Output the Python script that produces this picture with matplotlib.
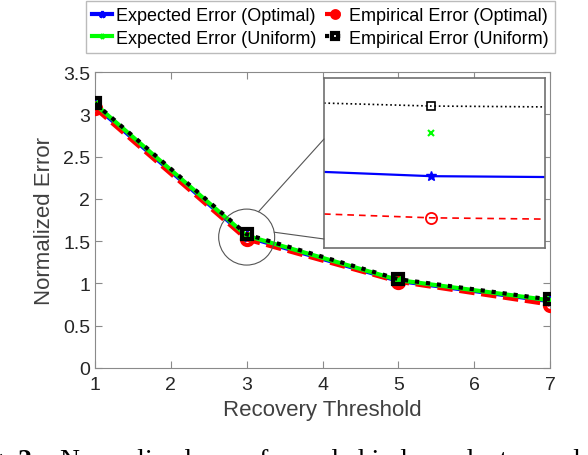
import matplotlib
matplotlib.use("Agg")
import matplotlib.pyplot as plt
from matplotlib.patches import Ellipse, ConnectionPatch
import numpy as np

plt.rcParams['font.family'] = ['Liberation Sans', 'DejaVu Sans']

# ---- data ----
thresholds = [1, 3, 5, 7]
expected_optimal = [3.10, 1.55, 1.03, 0.79]
empirical_optimal = [3.07, 1.52, 1.02, 0.75]
expected_uniform = [3.12, 1.565, 1.04, 0.80]
empirical_uniform = [3.13, 1.58, 1.05, 0.81]

x_ticks = [1, 2, 3, 4, 5, 6, 7]
y_ticks = [0, 0.5, 1, 1.5, 2, 2.5, 3, 3.5]
y_tick_labels = ['0', '0.5', '1', '1.5', '2', '2.5', '3', '3.5']

# zoomed inset (around threshold 3)
inset_x = [2.903, 3.0, 3.103]
inset_expected_optimal = [1.5479, 1.5469, 1.5467]
inset_empirical_optimal = [1.5380, 1.5371, 1.5368]
inset_empirical_uniform = [1.5641, 1.5634, 1.5632]
inset_expected_uniform_x = [3.0]
inset_expected_uniform = [1.5571]

labels = ['Expected Error (Optimal)', 'Empirical Error (Optimal)',
          'Expected Error (Uniform)', 'Empirical Error (Uniform)']

W, H = 588, 456
fig = plt.figure(figsize=(W / 100, H / 100), dpi=100)
ax = fig.add_axes([95 / W, 1 - 369 / H, 455 / W, 296 / H])

txt = '#262626'
axc = '#8a8a8a'

l1, = ax.plot(thresholds, expected_optimal, color='#0000ff', ls='-', lw=3,
              marker='*', ms=8, mew=2, zorder=3)
l2, = ax.plot(thresholds, empirical_optimal, color='#ff0000', ls='--', lw=3,
              marker='o', ms=8, mfc='none', mew=3, zorder=3)
l3, = ax.plot(thresholds, expected_uniform, color='#00ff00', ls='-', lw=3,
              marker='x', ms=6, mew=2.5, zorder=4)
l4, = ax.plot(thresholds, empirical_uniform, color='#000000', ls=':', lw=3,
              marker='s', ms=7, mfc='none', mew=3, zorder=5)

ax.set_xlim(1, 7)
ax.set_ylim(0, 3.5)
ax.set_xticks(x_ticks)
ax.set_yticks(y_ticks)
ax.set_yticklabels(y_tick_labels)
ax.tick_params(direction='in', top=True, right=True, length=5, width=0.8,
               color=axc, labelcolor=txt, labelsize=14)
ax.tick_params(axis='x', pad=6)
for s in ax.spines.values():
    s.set_color(axc)
    s.set_linewidth(0.8)
ax.set_xlabel('Recovery Threshold', fontsize=16, color='#404040', labelpad=4)
ax.set_ylabel('Normalized Error', fontsize=16, color='#404040', labelpad=6)

# magnifier circle
cx, cy = 3.0, 1.548
rx, ry = 28 / 75.83, 28 / 84.6
ax.add_patch(Ellipse((cx, cy), 2 * rx, 2 * ry, fill=False, ec='#555555',
                     lw=0.8, zorder=6))

# inset
ins = fig.add_axes([324 / W, 1 - 249 / H, 221 / W, 170 / H])
ins.plot(inset_x, inset_empirical_uniform, color='k', ls=':', lw=1.2,
         marker='s', ms=6, mfc='none', mew=1.2, markevery=[1])
ins.plot(inset_expected_uniform_x, inset_expected_uniform, color='#00ff00',
         ls='none', marker='x', ms=5, mew=1.5)
ins.plot(inset_x, inset_expected_optimal, color='#0000ff', ls='-', lw=1.6,
         marker='*', ms=7, markevery=[1])
ins.plot(inset_x, inset_empirical_optimal, color='#ff0000', ls=(0, (4, 3)),
         lw=1.2, marker='o', ms=8, mfc='none', mew=1.3, markevery=[1])
ins.set_xlim(2.903, 3.103)
ins.set_ylim(1.53, 1.57)
ins.set_xticks([])
ins.set_yticks([])
for s in ins.spines.values():
    s.set_color('#707070')
    s.set_linewidth(1.2)

for ang, yin in [(65, 0.641), (10, 0.053)]:
    a = np.deg2rad(ang)
    pA = (cx + rx * np.cos(a), cy + ry * np.sin(a))
    con = ConnectionPatch(xyA=pA, coordsA=ax.transData, xyB=(0, yin),
                          coordsB=ins.transAxes, color='#555555', lw=0.8)
    fig.add_artist(con)

leg = fig.legend([l1, l3, l2, l4],
                 [labels[0], labels[2], labels[1], labels[3]],
                 ncol=2, loc='upper left', bbox_to_anchor=(86 / W, 1 - 2 / H),
                 fontsize=13, frameon=True, fancybox=False,
                 framealpha=1, edgecolor='#bbbbbb', handlelength=1.1,
                 handletextpad=0.2, columnspacing=0.5, borderpad=0.35,
                 labelspacing=0.3, borderaxespad=0, markerscale=0.6)
leg.get_frame().set_linewidth(1.0)
for line in leg.get_lines():
    line.set_linewidth(3)

# caption (cut off at bottom of the image)
cap_y = 1 - 449 / H
fig.text(-34 / W, cap_y, 'Fig.', family='Liberation Serif', fontsize=20,
         va='top', ha='left', color='k')
fig.text(18 / W, cap_y, '2.', family='Liberation Serif', fontsize=20,
         fontweight='bold', va='top', ha='left', color='k')
fig.text(60 / W, cap_y, 'Normalized error for coded independent samples',
         family='Liberation Serif', fontsize=20, va='top', ha='left', color='k')

fig.savefig('out.png', dpi=100)
